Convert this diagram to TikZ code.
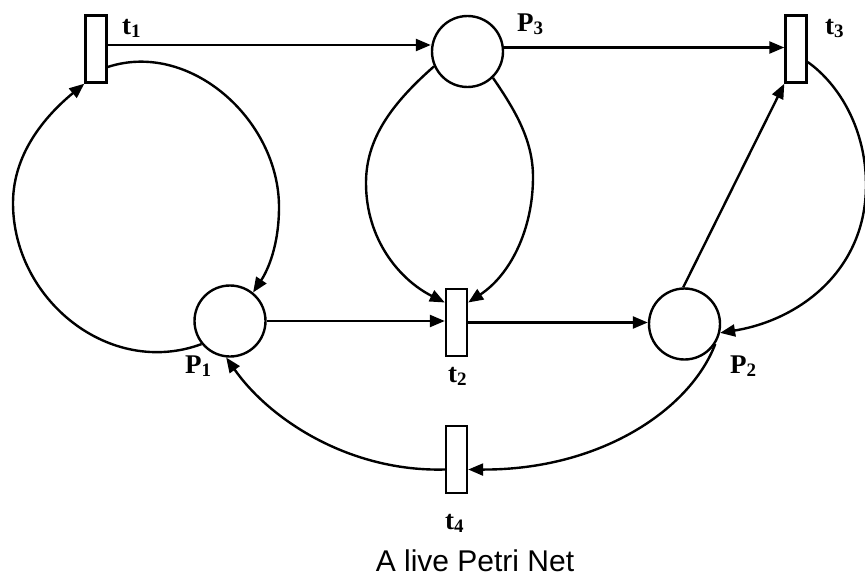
\documentclass[tikz,border=0pt]{standalone}
\usepackage{fontspec}
\setmainfont{Liberation Serif}
\newfontfamily\capfont{Liberation Sans}
\usetikzlibrary{arrows.meta}
\newcommand{\pnlab}[2]{#1\raisebox{-3pt}{\fontsize{19}{19}\selectfont #2}}
\begin{document}
\begin{tikzpicture}[x=1pt,y=-1pt,
  place/.style={draw,circle,line width=2.4pt,minimum size=71pt,inner sep=0pt},
  trans/.style={draw,rectangle,line width=2.4pt,minimum width=21pt,minimum height=67pt,inner sep=0pt},
  arc/.style={line width=2.4pt,-{Triangle[length=15pt,width=12pt]}},
  lab/.style={anchor=base west,inner sep=0pt,font=\fontsize{27}{30}\selectfont\bfseries},
]
\useasboundingbox (0,0) rectangle (865,578);

% nodes
\node[trans] (t1) at (96,49) {};
\node[place] (P3) at (467.5,51.5) {};
\node[trans] (t3) at (796,49) {};
\node[place] (P1) at (230,321) {};
\node[trans] (t2) at (456.5,322.5) {};
\node[place] (P2) at (684.5,324) {};
\node[trans] (t4) at (456.5,459.5) {};

% labels
\node[lab] (lt1) at (122,35) {\pnlab{t}{1}};
\node[lab] (lP3) at (517,32) {\pnlab{P}{3}};
\node[lab] (lt3) at (825,35) {\pnlab{t}{3}};
\node[lab] (lP1) at (185,373) {\pnlab{P}{1}};
\node[lab] (lt2) at (448,382) {\pnlab{t}{2}};
\node[lab] (lP2) at (730,373) {\pnlab{P}{2}};
\node[lab] (lt4) at (445,529) {\pnlab{t}{4}};

\node[anchor=base,inner sep=0pt,font=\capfont\fontsize{30}{34}\selectfont] (cap) at (475,571) {A live Petri Net};

% straight arcs
\draw[arc] ([yshift=4pt]t1.east) -- ([yshift=4pt]t1.east -| P3.west);
\draw[arc] ([yshift=4pt]P3.east) -- ([yshift=4pt]P3.east -| t3.west);
\draw[arc] (P1.east) -- (P1.east -| t2.west);
\draw[arc] (t2.east) -- (t2.east -| P2.west);
\draw[arc] (P2.92) -- (t3.south west);

% curved arcs
\draw[arc] (P1.219) .. controls (110,378) and (13,300) .. (13,203)
                    .. controls (13,150) and (50,112) .. (t1.south west);
\draw[arc] ([yshift=-18pt]t1.east) .. controls (190,40) and (279,120) .. (279,207)
                    .. controls (279,245) and (268,270) .. (P1.51);
\draw[arc] (P3.204) .. controls (390,105) and (366,140) .. (366,183)
                    .. controls (366,240) and (400,280) .. ([yshift=20pt]t2.west);
\draw[arc] (P3.-46) .. controls (515,110) and (533,140) .. (533,177)
                    .. controls (533,230) and (510,275) .. ([yshift=20pt]t2.east);
\draw[arc] ([yshift=-13pt]t3.east) .. controls (840,85) and (866,130) .. (866,185)
                    .. controls (866,270) and (800,320) .. (P2.-14);
\draw[arc] (P2.-33) .. controls (690,410) and (600,470) .. ([yshift=-10pt]t4.east);
\draw[arc] ([yshift=-10pt]t4.west) .. controls (350,472) and (270,420) .. (P1.-96);
\end{tikzpicture}
\end{document}
